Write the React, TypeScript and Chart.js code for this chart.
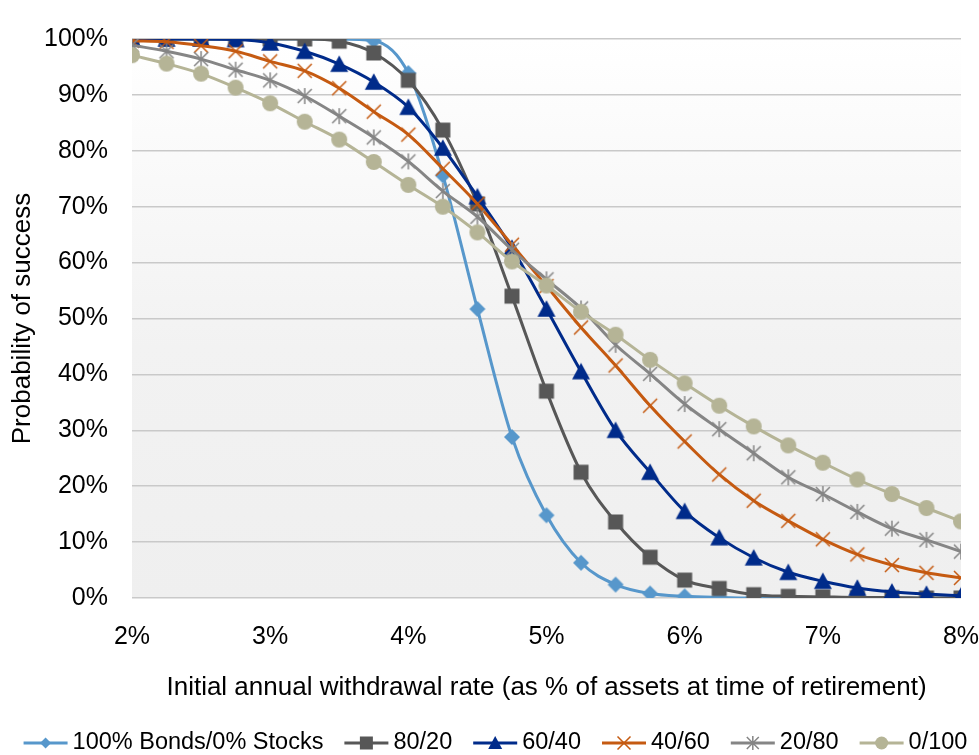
import React, { useEffect, useRef } from 'react';
import { Chart, registerables } from 'chart.js';

Chart.register(...registerables);

// ---------- data ----------
const rates = [2, 2.25, 2.5, 2.75, 3, 3.25, 3.5, 3.75, 4, 4.25, 4.5, 4.75, 5, 5.25, 5.5, 5.75, 6, 6.25, 6.5, 6.75, 7, 7.25, 7.5, 7.75, 8];

const bonds100 = [100, 100, 100, 100, 100, 100, 100, 99.7, 93.9, 75.6, 51.7, 28.8, 14.8, 6.3, 2.4, 0.8, 0.3, 0.1, 0, 0, 0, 0, 0, 0, 0];
const mix8020 = [100, 100, 100, 100, 100, 100, 99.6, 97.5, 92.6, 83.7, 70.5, 54.0, 37.0, 22.5, 13.6, 7.3, 3.2, 1.7, 0.6, 0.3, 0.2, 0.1, 0.1, 0, 0];
const mix6040 = [100, 100, 100, 99.9, 99.3, 97.8, 95.5, 92.3, 87.8, 80.5, 71.8, 62.6, 51.7, 40.5, 30.0, 22.5, 15.5, 10.8, 7.2, 4.6, 3.0, 1.8, 1.1, 0.7, 0.4];
const mix4060 = [99.7, 99.5, 98.8, 97.8, 96.0, 94.3, 91.2, 87.0, 82.9, 76.8, 70.5, 63.2, 55.8, 48.4, 41.6, 34.4, 28.0, 22.1, 17.4, 13.8, 10.5, 7.8, 5.9, 4.5, 3.6];
const mix2080 = [98.9, 97.8, 96.4, 94.5, 92.6, 89.8, 86.2, 82.4, 78.1, 72.8, 68.2, 62.3, 57.0, 51.8, 45.3, 40.1, 34.7, 30.2, 25.9, 21.6, 18.6, 15.4, 12.4, 10.4, 8.3];
const mix0100 = [97.1, 95.6, 93.8, 91.3, 88.5, 85.2, 82.0, 78.0, 73.9, 70.0, 65.4, 60.2, 55.9, 51.2, 47.1, 42.6, 38.4, 34.4, 30.7, 27.3, 24.2, 21.2, 18.6, 16.1, 13.7];

const seriesNames = ['100% Bonds/0% Stocks', '80/20', '60/40', '40/60', '20/80', '0/100'];
const seriesValues = [bonds100, mix8020, mix6040, mix4060, mix2080, mix0100];

const xTickValues = [2, 3, 4, 5, 6, 7, 8];
const yTickValues = [0, 10, 20, 30, 40, 50, 60, 70, 80, 90, 100];
const xTitle = 'Initial annual withdrawal rate (as % of assets at time of retirement)';
const yTitle = 'Probability of success';

// ---------- styles ----------
const colors = ['#5797CB', '#575757', '#002B8A', '#C55A11', '#858585', '#B5B496'];
const markers = ['diamond', 'square', 'triangle', 'x', 'asterisk', 'circle'];
const markerSize = [8, 7.5, 9, 7, 7, 8];
const legendMarkerSize = [5.5, 6.5, 7, 6.5, 6, 6.5];

const FONT = "'Liberation Sans', Arial, sans-serif";

function drawMarker(ctx: CanvasRenderingContext2D, kind: string, cx: number, cy: number, s: number, color: string) {
  ctx.save();
  ctx.fillStyle = color;
  ctx.strokeStyle = color;
  ctx.lineWidth = 1.5;
  ctx.beginPath();
  switch (kind) {
    case 'diamond':
      ctx.moveTo(cx, cy - s);
      ctx.lineTo(cx + s, cy);
      ctx.lineTo(cx, cy + s);
      ctx.lineTo(cx - s, cy);
      ctx.closePath();
      ctx.fill();
      break;
    case 'square':
      ctx.rect(cx - s, cy - s, 2 * s, 2 * s);
      ctx.fill();
      break;
    case 'triangle': {
      const h = s * 1.732;
      ctx.moveTo(cx, cy - h / 2 - 1);
      ctx.lineTo(cx + s, cy + h / 2);
      ctx.lineTo(cx - s, cy + h / 2);
      ctx.closePath();
      ctx.fill();
      break;
    }
    case 'x':
      ctx.moveTo(cx - s, cy - s);
      ctx.lineTo(cx + s, cy + s);
      ctx.moveTo(cx + s, cy - s);
      ctx.lineTo(cx - s, cy + s);
      ctx.stroke();
      break;
    case 'asterisk':
      ctx.moveTo(cx - s, cy - s);
      ctx.lineTo(cx + s, cy + s);
      ctx.moveTo(cx + s, cy - s);
      ctx.lineTo(cx - s, cy + s);
      ctx.moveTo(cx, cy - s * 1.15);
      ctx.lineTo(cx, cy + s * 1.15);
      ctx.stroke();
      break;
    case 'circle':
      ctx.arc(cx, cy, s, 0, Math.PI * 2);
      ctx.fill();
      break;
  }
  ctx.restore();
}

function makeMarkerCanvas(kind: string, s: number, color: string) {
  const size = Math.ceil(s) * 2 + 6;
  const c = document.createElement('canvas');
  c.width = size;
  c.height = size;
  const ctx = c.getContext('2d')!;
  drawMarker(ctx, kind, size / 2, size / 2, s, color);
  return c;
}

const plotBackground = {
  id: 'plotBackground',
  beforeDraw(chart: any) {
    const { ctx, chartArea } = chart;
    if (!chartArea) return;
    const g = ctx.createLinearGradient(0, chartArea.top, 0, chartArea.bottom);
    g.addColorStop(0, '#FFFFFF');
    g.addColorStop(0.55, '#F2F2F2');
    g.addColorStop(1, '#EFEFEF');
    ctx.save();
    ctx.fillStyle = g;
    ctx.fillRect(chartArea.left, chartArea.top, chartArea.right - chartArea.left, chartArea.bottom - chartArea.top);
    ctx.restore();
  },
};

const customLegend = {
  id: 'customLegend',
  afterDraw(chart: any) {
    const ctx: CanvasRenderingContext2D = chart.ctx;
    const datasets = chart.data.datasets;
    const fontSize = 23.5;
    const lineLen = 44;
    const gapAfterLine = 5;
    const gapBetween = 21;
    const y = 743;
    ctx.save();
    ctx.font = `${fontSize}px ${FONT}`;
    const widths = datasets.map((d: any) => ctx.measureText(d.label).width);
    const total = widths.reduce((a: number, w: number) => a + w + lineLen + gapAfterLine, 0) + gapBetween * (datasets.length - 1);
    let x = (chart.width - total) / 2 + 6;
    datasets.forEach((d: any, i: number) => {
      ctx.strokeStyle = colors[i];
      ctx.lineWidth = 3;
      ctx.beginPath();
      ctx.moveTo(x, y);
      ctx.lineTo(x + lineLen, y);
      ctx.stroke();
      drawMarker(ctx, markers[i], x + lineLen / 2, y, legendMarkerSize[i], colors[i]);
      x += lineLen + gapAfterLine;
      ctx.fillStyle = '#000000';
      ctx.textBaseline = 'middle';
      ctx.textAlign = 'left';
      ctx.fillText(d.label, x, y);
      x += widths[i] + gapBetween;
    });
    ctx.restore();
  },
};

export default function App() {
  const canvasRef = useRef<HTMLCanvasElement | null>(null);

  useEffect(() => {
    if (!canvasRef.current) return;
    Chart.defaults.font.family = FONT;
    Chart.defaults.color = '#000000';

    const datasets = seriesNames.map((name, i) => {
      const img = makeMarkerCanvas(markers[i], markerSize[i], colors[i]);
      return {
        label: name,
        data: rates.map((r, k) => ({ x: r, y: seriesValues[i][k] })),
        borderColor: colors[i],
        backgroundColor: colors[i],
        borderWidth: 3,
        pointStyle: img as any,
        pointRadius: markerSize[i],
        cubicInterpolationMode: 'monotone' as const,
        fill: false,
        order: seriesNames.length - i,
      };
    });

    const chart = new Chart(canvasRef.current, {
      type: 'line',
      data: { datasets },
      plugins: [plotBackground, customLegend],
      options: {
        animation: false,
        responsive: true,
        maintainAspectRatio: false,
        layout: { padding: { top: 20, right: 18, bottom: 48, left: 0 } },
        plugins: {
          legend: { display: false },
          tooltip: { enabled: false },
        },
        scales: {
          x: {
            type: 'linear',
            min: 2,
            max: 8,
            afterBuildTicks: (scale: any) => {
              scale.ticks = xTickValues.map((v) => ({ value: v }));
            },
            afterFit: (scale: any) => {
              scale.height = 109;
              scale.paddingRight = 0;
              scale.paddingLeft = 0;
            },
            ticks: {
              font: { size: 25 },
              color: '#000000',
              padding: 24,
              maxRotation: 0,
              autoSkip: false,
              callback: (v: any) => `${v}%`,
            },
            grid: { display: false, drawTicks: false },
            border: { display: false },
            title: {
              display: true,
              text: xTitle,
              font: { size: 26 },
              color: '#000000',
              padding: { top: 0, bottom: 4 },
            },
          },
          y: {
            type: 'linear',
            min: 0,
            max: 100,
            afterBuildTicks: (scale: any) => {
              scale.ticks = yTickValues.map((v) => ({ value: v }));
            },
            afterFit: (scale: any) => {
              scale.width = 132;
            },
            ticks: {
              font: { size: 25 },
              color: '#000000',
              padding: 24,
              callback: (v: any) => `${v}%`,
            },
            grid: { color: '#C9C9C9', lineWidth: 1.5, drawTicks: false },
            border: { display: false },
            title: {
              display: true,
              text: yTitle,
              font: { size: 26 },
              color: '#000000',
              padding: { top: 7, bottom: 0 },
            },
          },
        },
      },
    });
    return () => chart.destroy();
  }, []);

  return (
    <div style={{ position: 'fixed', left: 0, top: 0, width: 979, height: 755, background: '#FFFFFF' }}>
      <canvas ref={canvasRef} />
    </div>
  );
}
